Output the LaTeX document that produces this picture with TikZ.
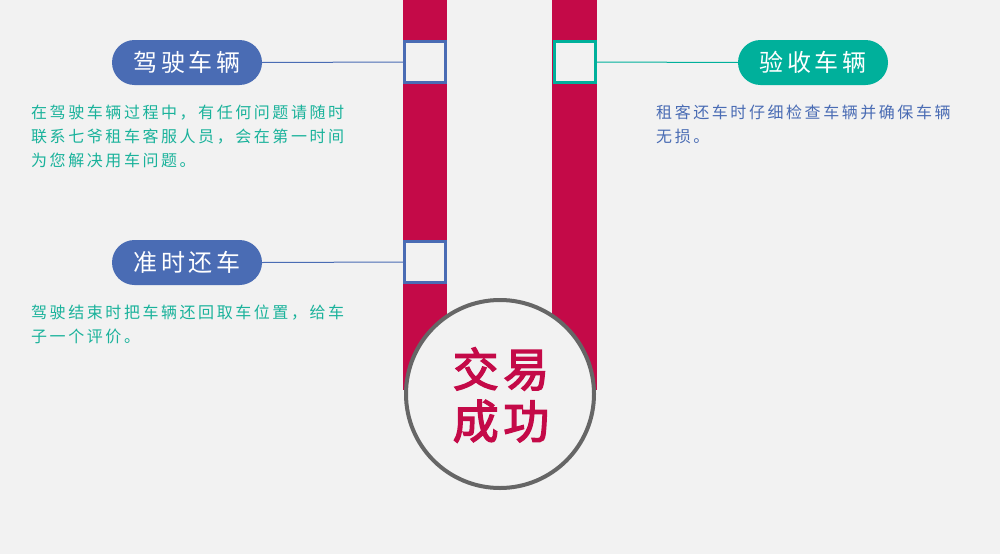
\documentclass[tikz,border=0pt]{standalone}
\usepackage{fontspec}
\newfontfamily\cjk[LetterSpace=16]{Noto Sans CJK SC}
\newfontfamily\cjkpill[LetterSpace=14]{Noto Sans CJK SC}
\newfontfamily\cjkbig[LetterSpace=10,FakeBold=3]{Noto Sans CJK SC}
\definecolor{bg}{HTML}{F2F2F2}
\definecolor{barred}{HTML}{C40A48}
\definecolor{myblue}{HTML}{4A6CB4}
\definecolor{myteal}{HTML}{00B09B}
\definecolor{txteal}{HTML}{1AB29B}
\definecolor{ringgray}{HTML}{666666}
\tikzset{
  bar/.style={fill=barred, draw=none},
  sqbox/.style={draw=#1, line width=3pt, fill=bg, minimum width=41pt, minimum height=41pt, inner sep=0pt},
  pill/.style={fill=#1, draw=none, rounded corners=22.5pt, minimum width=150pt, minimum height=45pt, inner sep=0pt, text=white, font=\cjkpill\fontsize{24}{24}\selectfont},
  link/.style={draw=#1, line width=1pt},
  desc/.style={anchor=north west, align=left, inner sep=0pt, text=#1, font=\cjk\fontsize{16}{24}\selectfont},
}
\begin{document}
\begin{tikzpicture}[x=1pt,y=-1pt]
\fill[bg] (0,0) rectangle (1000,554);
\useasboundingbox (0,0) rectangle (1000,554);
% bars
\fill[bar] (403,0) rectangle (447,390);
\fill[bar] (552,0) rectangle (597,390);
% circle
\node[circle, draw=ringgray, line width=4pt, fill=bg, minimum size=188pt, inner sep=0pt] (ring) at (500,394) {};
\node[text=barred, font=\cjkbig\fontsize{46}{52}\selectfont, align=center] (deal) at (501,395) {交易\\成功};
% squares
\node[sqbox=myblue] (sqA) at (425,62) {};
\node[sqbox=myblue] (sqB) at (425,262) {};
\node[sqbox=myteal] (sqC) at (574.5,62) {};
% pills
\node[pill=myblue] (pA) at (187,62.5) {驾驶车辆};
\node[pill=myblue] (pB) at (187,262.5) {准时还车};
\node[pill=myteal] (pC) at (813,62.5) {验收车辆};
% links
\draw[link=myblue] (pA.east) -- (sqA.west);
\draw[link=myblue] (pB.east) -- (sqB.west);
\draw[link=myteal] (sqC.east) -- (pC.west);
% descriptions
\node[desc=txteal] (dA) at (31,105) {在驾驶车辆过程中，有任何问题请随时\\联系七爷租车客服人员，会在第一时间\\为您解决用车问题。};
\node[desc=txteal] (dB) at (31,305) {驾驶结束时把车辆还回取车位置，给车\\子一个评价。};
\node[desc=myblue] (dC) at (656,105) {租客还车时仔细检查车辆并确保车辆\\无损。};
\end{tikzpicture}
\end{document}
